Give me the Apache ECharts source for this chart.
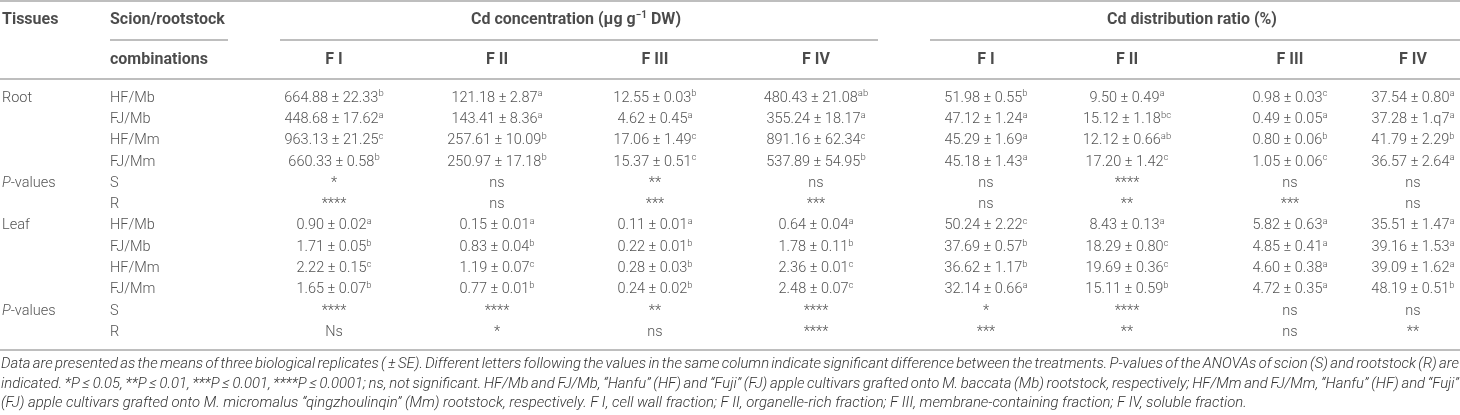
<!DOCTYPE html>
<html>
<head>
<meta charset="utf-8">
<script src="https://cdn.jsdelivr.net/npm/echarts@6.0.0/dist/echarts.min.js"></script>
<style>
  html, body { margin: 0; padding: 0; background: #fff; }
  #table_chart { width: 1460px; height: 415px; }
</style>
</head>
<body>
<div id="table_chart"></div>
<script>
// ---- table content ----
var tissues = ['Root', '', '', '', 'P-values', '', 'Leaf', '', '', '', 'P-values', '']
var combos = ['HF/Mb', 'FJ/Mb', 'HF/Mm', 'FJ/Mm', 'S', 'R', 'HF/Mb', 'FJ/Mb', 'HF/Mm', 'FJ/Mm', 'S', 'R']

// Cd concentration (ug/g DW), "mean ± SE^letter"
var concFI = ['664.88 ± 22.33^b', '448.68 ± 17.62^a', '963.13 ± 21.25^c', '660.33 ± 0.58^b', '*', '****',
  '0.90 ± 0.02^a', '1.71 ± 0.05^b', '2.22 ± 0.15^c', '1.65 ± 0.07^b', '****', 'Ns']
var concFII = ['121.18 ± 2.87^a', '143.41 ± 8.36^a', '257.61 ± 10.09^b', '250.97 ± 17.18^b', 'ns', 'ns',
  '0.15 ± 0.01^a', '0.83 ± 0.04^b', '1.19 ± 0.07^c', '0.77 ± 0.01^b', '****', '*']
var concFIII = ['12.55 ± 0.03^b', '4.62 ± 0.45^a', '17.06 ± 1.49^c', '15.37 ± 0.51^c', '**', '***',
  '0.11 ± 0.01^a', '0.22 ± 0.01^b', '0.28 ± 0.03^b', '0.24 ± 0.02^b', '**', 'ns']
var concFIV = ['480.43 ± 21.08^ab', '355.24 ± 18.17^a', '891.16 ± 62.34^c', '537.89 ± 54.95^b', 'ns', '***',
  '0.64 ± 0.04^a', '1.78 ± 0.11^b', '2.36 ± 0.01^c', '2.48 ± 0.07^c', '****', '****']

// Cd distribution ratio (%)
var distFI = ['51.98 ± 0.55^b', '47.12 ± 1.24^a', '45.29 ± 1.69^a', '45.18 ± 1.43^a', 'ns', 'ns',
  '50.24 ± 2.22^c', '37.69 ± 0.57^b', '36.62 ± 1.17^b', '32.14 ± 0.66^a', '*', '***']
var distFII = ['9.50 ± 0.49^a', '15.12 ± 1.18^bc', '12.12 ± 0.66^ab', '17.20 ± 1.42^c', '****', '**',
  '8.43 ± 0.13^a', '18.29 ± 0.80^c', '19.69 ± 0.36^c', '15.11 ± 0.59^b', '****', '**']
var distFIII = ['0.98 ± 0.03^c', '0.49 ± 0.05^a', '0.80 ± 0.06^b', '1.05 ± 0.06^c', 'ns', '***',
  '5.82 ± 0.63^a', '4.85 ± 0.41^a', '4.60 ± 0.38^a', '4.72 ± 0.35^a', 'ns', 'ns']
var distFIV = ['37.54 ± 0.80^a', '37.28 ± 1.q7^a', '41.79 ± 2.29^b', '36.57 ± 2.64^a', 'ns', 'ns',
  '35.51 ± 1.47^a', '39.16 ± 1.53^a', '39.09 ± 1.62^a', '48.19 ± 0.51^b', 'ns', '**']

var valueCols = [concFI, concFII, concFIII, concFIV, distFI, distFII, distFIII, distFIV]

var headTop = ['Tissues', 'Scion/rootstock']
var groupTitles = ['Cd concentration (μg g^−1 DW)', 'Cd distribution ratio (%)']
var headSub = ['combinations']
var fracNames = ['F I', 'F II', 'F III', 'F IV', 'F I', 'F II', 'F III', 'F IV']

var notes = [
  'Data are presented as the means of three biological replicates ( ± SE). Different letters following the values in the same column indicate significant difference between the treatments. P-values of the ANOVAs of scion (S) and rootstock (R) are',
  'indicated. *P ≤ 0.05, **P ≤ 0.01, ***P ≤ 0.001, ****P ≤ 0.0001; ns, not significant. HF/Mb and FJ/Mb, “Hanfu” (HF) and “Fuji” (FJ) apple cultivars grafted onto M. baccata (Mb) rootstock, respectively; HF/Mm and FJ/Mm, “Hanfu” (HF) and “Fuji”',
  '(FJ) apple cultivars grafted onto M. micromalus “qingzhoulinqin” (Mm) rootstock, respectively. F I, cell wall fraction; F II, organelle-rich fraction; F III, membrane-containing fraction; F IV, soluble fraction.'
]

// ---- layout ----
var W = 1460
var colX = [334, 497, 655, 816, 986, 1127, 1290, 1413]   // column centres
var leftX = [2, 110]                                       // tissues / combinations
var subRules = [[110, 228], [280, 878], [930, 1460]]
var fullRules = [1, 79, 350]
var noteY = [364, 384, 403]
var FONT = 'Roboto'
var lineColor = '#a9a9a9'
var ink = '#262626'

var rich = {
  v: { fontFamily: FONT, fontSize: 14.5, fontWeight: 300, color: ink, lineHeight: 18 },
  s: { fontFamily: FONT, fontSize: 9.5, fontWeight: 300, color: ink, lineHeight: 11, verticalAlign: 'top' },
  i: { fontFamily: FONT, fontSize: 14.5, fontWeight: 300, fontStyle: 'italic', color: ink, lineHeight: 18 },
  h: { fontFamily: FONT, fontSize: 16, fontWeight: 'bold', color: '#1e1e1e', lineHeight: 20 },
  hs: { fontFamily: FONT, fontSize: 10, fontWeight: 'bold', color: '#1e1e1e', lineHeight: 12, verticalAlign: 'top' }
}

function cellText(s) {
  if (s === 'P-values') return '{i|P}{v|-values}'
  var p = s.split('^')
  return p.length > 1 ? '{v|' + p[0] + '}{s|' + p[1] + '}' : '{v|' + p[0] + '}'
}
function headText(s) {
  var p = s.split(/\^(\S+)/)
  return p.map((t, k) => t ? (k % 2 ? '{hs|' + t + '}' : '{h|' + t + '}') : '').join('')
}

// text series: symbols hidden, only the labels are drawn
function textSeries(grid, data, align, fmt) {
  return {
    type: 'scatter',
    xAxisIndex: grid,
    yAxisIndex: grid,
    symbolSize: 0,
    silent: true,
    animation: false,
    data: data,
    label: {
      show: true,
      position: align === 'left' ? 'right' : 'inside',
      distance: 0,
      formatter: p => fmt(p.data[2]),
      rich: rich
    }
  }
}

var series = []
// header row 0 / row 1
series.push(textSeries(0, headTop.map((t, k) => [leftX[k], 0, t]), 'left', headText))
series.push(textSeries(0, groupTitles.map((t, k) => [(subRules[k + 1][0] + subRules[k + 1][1]) / 2 - 3, 0, t]), 'center', headText))
series.push(textSeries(0, headSub.map(t => [leftX[1], 1, t]), 'left', headText))
series.push(textSeries(0, fracNames.map((t, k) => [colX[k], 1, t]), 'center', headText))
// body
series.push(textSeries(1, tissues.map((t, i) => [leftX[0], i, t]).filter(d => d[2]), 'left', cellText))
series.push(textSeries(1, combos.map((t, i) => [leftX[1], i, t]), 'left', cellText))
valueCols.forEach((col, j) => {
  series.push(textSeries(1, col.map((t, i) => [colX[j], i, t]), 'center', cellText))
})

// ---- rules and footnote ----
var graphic = []
fullRules.forEach(y => graphic.push({ type: 'line', shape: { x1: 0, y1: y, x2: W, y2: y }, style: { stroke: lineColor, lineWidth: 1.6 }, silent: true }))
subRules.forEach(r => graphic.push({ type: 'line', shape: { x1: r[0], y1: 40, x2: r[1], y2: 40 }, style: { stroke: lineColor, lineWidth: 1.4 }, silent: true }))

var ctx = document.createElement('canvas').getContext('2d')
function noteFont(fs) { return 'italic 300 ' + fs + 'px ' + FONT }
function measure(t, fs) { ctx.font = noteFont(fs); return ctx.measureText(t).width }
var noteSize = 14 * 1247 / measure(notes[2], 14)
notes.forEach((line, k) => {
  if (k < 2) {
    // justified lines: spread the words over the full width
    var words = line.split(' ')
    var widths = words.map(w => measure(w, noteSize))
    var gap = (W - 2 - widths.reduce((a, b) => a + b, 0)) / (words.length - 1)
    var x = 1
    words.forEach((w, n) => {
      graphic.push({ type: 'text', silent: true, style: { text: w, x: x, y: noteY[k], font: noteFont(noteSize), fill: '#333', verticalAlign: 'middle' } })
      x += widths[n] + gap
    })
  } else {
    graphic.push({ type: 'text', silent: true, style: { text: line, x: 1, y: noteY[k], font: noteFont(noteSize), fill: '#333', verticalAlign: 'middle' } })
  }
})

var hiddenX = i => ({ type: 'value', gridIndex: i, min: 0, max: W, show: false })
var hiddenY = (i, n) => ({ type: 'category', gridIndex: i, inverse: true, data: Array.from({ length: n }, (_, k) => k), show: false })

var myChart = echarts.init(document.querySelector('#table_chart'))
var option = {
  animation: false,
  grid: [
    { left: 0, right: 0, top: 0, height: 80 },
    { left: 0, right: 0, top: 87.4, height: 255.6 }
  ],
  xAxis: [hiddenX(0), hiddenX(1)],
  yAxis: [hiddenY(0, 2), hiddenY(1, tissues.length)],
  series: series,
  graphic: graphic
}
myChart.setOption(option)
</script>
</body>
</html>
